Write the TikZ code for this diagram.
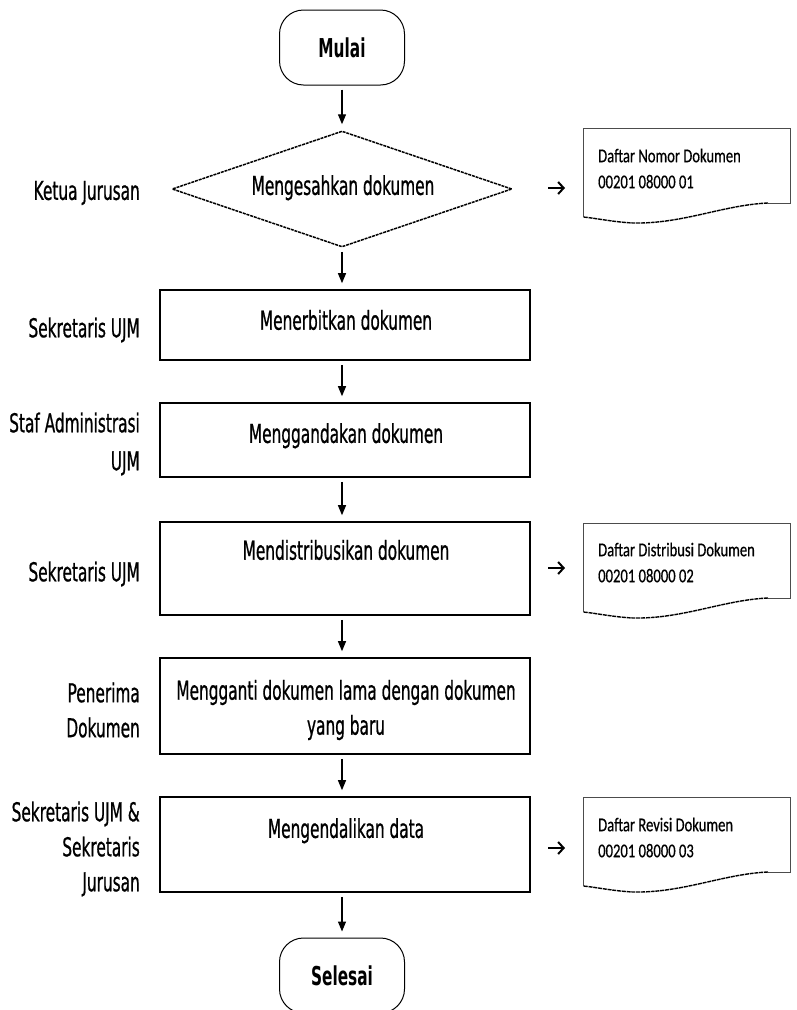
\documentclass[tikz,border=0pt]{standalone}
\usepackage{fontspec}
\setmainfont{DejaVu Sans}[FakeStretch=0.59, UprightFeatures={FakeBold=0.7}]
\newfontfamily\docfont{Carlito}[FakeStretch=0.75, FakeBold=0.5]
\usetikzlibrary{arrows.meta,shapes.geometric}
\begin{document}
\begin{tikzpicture}[x=1pt,y=-1pt,
  txt/.style={font=\fontsize{26}{35}\selectfont, inner sep=0, align=center},
  lbl/.style={font=\fontsize{26}{35}\selectfont, inner sep=0, align=right, anchor=east},
  doctxt/.style={font=\docfont\fontsize{19.5}{26}\selectfont, inner sep=0, align=left, anchor=west},
  procbox/.style={draw=black, line width=1.6pt, minimum width=370pt, inner sep=0},
  term/.style={draw=black, line width=1pt, rounded corners=24pt, minimum width=125pt, minimum height=75pt, inner sep=0, font=\bfseries\fontsize{26}{30}\selectfont},
  decision/.style={draw=black, diamond, line width=1.5pt, dash pattern=on 3pt off 0.9pt, minimum width=340pt, minimum height=116pt, aspect=2.93, inner sep=0},
  flow/.style={-{Triangle[length=10pt,width=8pt]}, line width=1.3pt, shorten <=4pt, shorten >=6pt},
  sidearrow/.style={-{Straight Barb[length=5.5pt,width=12pt,line width=2pt]}, line width=2pt},
  docline/.style={draw=black!70, line width=1pt},
  docwave/.style={draw=black, line width=1.4pt, dash pattern=on 4pt off 0.8pt},
  docsym/.pic={
    \draw[docline] (0,89) -- (0,0) -- (207,0) -- (207,75) -- (185,75);
    \draw[docwave] (185,75) .. controls (140,77) and (100,96) .. (50,95) .. controls (30,94) and (12,90) .. (0,89);
  }
]
\useasboundingbox (0,0) rectangle (797,1010);
\clip (0,0) rectangle (797,1010);

% flow nodes
\node[term] (start) at (342,47.5) {Mulai};
\node[decision] (dec) at (342,189) {};
\node[txt] (decT) at (343,187.7) {Mengesahkan dokumen};
\node[procbox, minimum height=70pt] (b1) at (345,325) {};
\node[txt] (b1T) at (346,320) {Menerbitkan dokumen};
\node[procbox, minimum height=74pt] (b2) at (345,440) {};
\node[txt] (b2T) at (346,435.7) {Menggandakan dokumen};
\node[procbox, minimum height=93pt] (b3) at (345,568.5) {};
\node[txt] (b3T) at (346,550) {Mendistribusikan dokumen};
\node[procbox, minimum height=96pt] (b4) at (345,706) {};
\node[txt] (b4T) at (346,710) {Mengganti dokumen lama dengan dokumen\\yang baru};
\node[procbox, minimum height=95pt] (b5) at (345,844.5) {};
\node[txt] (b5T) at (346,830.7) {Mengendalikan data};
\node[term] (stop) at (342,975.5) {Selesai};

% arrows
\draw[flow] (start.south) -- (dec.north);
\draw[flow] (dec.south) -- (dec.south |- b1.north);
\draw[flow] (b1.south -| dec.south) -- (b2.north -| dec.south);
\draw[flow] (b2.south -| dec.south) -- (b3.north -| dec.south);
\draw[flow] (b3.south -| dec.south) -- (b4.north -| dec.south);
\draw[flow] (b4.south -| dec.south) -- (b5.north -| dec.south);
\draw[flow] (b5.south -| dec.south) -- (stop.north);

% role labels
\node[lbl] (l0) at (140,193) {Ketua Jurusan};
\node[lbl] (l1) at (140,330) {Sekretaris UJM};
\node[lbl] (l2) at (140,444) {Staf Administrasi\\[3pt]UJM};
\node[lbl] (l3) at (140,574) {Sekretaris UJM};
\node[lbl] (l4) at (140,710) {Penerima\\Dokumen};
\node[lbl] (l5) at (140,849) {Sekretaris UJM \&\\Sekretaris\\Jurusan};

% side arrows
\coordinate (s1a) at (548,188); \coordinate (s1b) at (565,188);
\coordinate (s2a) at (548,568); \coordinate (s2b) at (565,568);
\coordinate (s3a) at (548,848); \coordinate (s3b) at (565,848);
\draw[sidearrow] (s1a) -- (s1b);
\draw[sidearrow] (s2a) -- (s2b);
\draw[sidearrow] (s3a) -- (s3b);

% documents
\pic at (583,128) {docsym};
\node[doctxt] (d1) at (598,168.5) {Daftar Nomor Dokumen\\00201 08000 01};
\pic at (583,523) {docsym};
\node[doctxt] (d2) at (598,562.5) {Daftar Distribusi Dokumen\\00201 08000 02};
\pic at (583,797) {docsym};
\node[doctxt] (d3) at (598,837.5) {Daftar Revisi Dokumen\\00201 08000 03};
\end{tikzpicture}
\end{document}
